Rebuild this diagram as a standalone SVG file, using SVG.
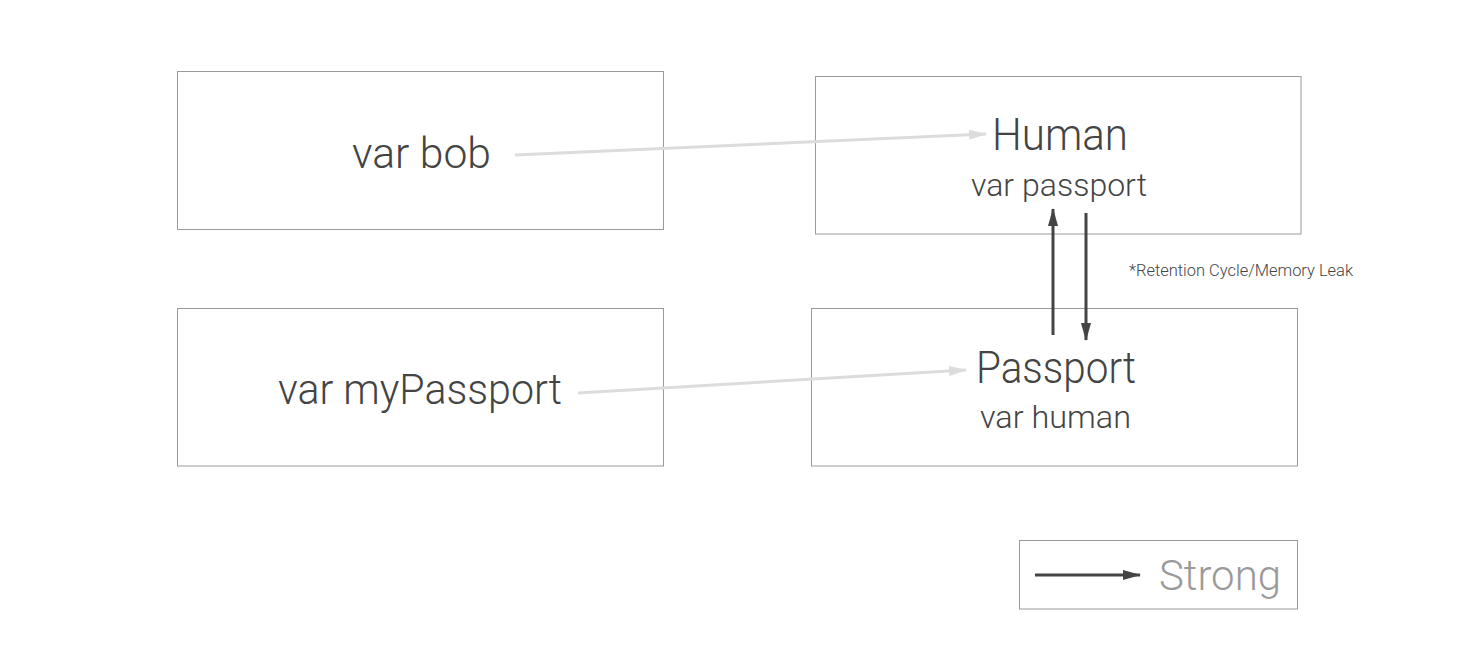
<svg xmlns="http://www.w3.org/2000/svg" width="1482" height="664" viewBox="0 0 1482 664">
<style>
.box{fill:#fff;stroke:#9a9a9a;stroke-width:1}
.t{font-family:Roboto,"Liberation Sans",sans-serif;font-weight:300;fill:#444;text-anchor:middle}
.light{stroke:#dcdcdc;stroke-width:3;fill:none}
.dark{stroke:#444;stroke-width:3;fill:none}
</style>
<defs>
<marker id="ahL" markerWidth="18" markerHeight="10" refX="17" refY="5" orient="auto" markerUnits="userSpaceOnUse"><path d="M0,0 L18,5 L0,10 z" fill="#dcdcdc"/></marker>
<marker id="ahD" markerWidth="18" markerHeight="10" refX="17" refY="5" orient="auto" markerUnits="userSpaceOnUse"><path d="M0,0 L18,5 L0,10 z" fill="#444"/></marker>
</defs>
<rect width="1482" height="664" fill="#fff"/>
<g id="bob"><rect class="box" x="177.5" y="71.5" width="486" height="158"/><text class="t" x="421.5" y="168" font-size="43" textLength="139" lengthAdjust="spacingAndGlyphs">var bob</text></g>
<g id="human"><rect class="box" x="815.5" y="76.5" width="485.5" height="157.5"/><text class="t" x="1060" y="150" font-size="45" textLength="136" lengthAdjust="spacingAndGlyphs">Human</text><text class="t" x="1059" y="196" font-size="31" textLength="176" lengthAdjust="spacingAndGlyphs">var passport</text></g>
<g id="mypassport"><rect class="box" x="177.5" y="308.5" width="486" height="157.5"/><text class="t" x="420" y="404" font-size="43" textLength="284" lengthAdjust="spacingAndGlyphs">var myPassport</text></g>
<g id="passport"><rect class="box" x="811.5" y="308.5" width="486" height="157.5"/><text class="t" x="1056" y="383" font-size="45" textLength="160" lengthAdjust="spacingAndGlyphs">Passport</text><text class="t" x="1055.5" y="428" font-size="31" textLength="151" lengthAdjust="spacingAndGlyphs">var human</text></g>
<g id="note"><text class="t" x="1241" y="276" font-size="16" textLength="224" lengthAdjust="spacingAndGlyphs" font-weight="400">*Retention Cycle/Memory Leak</text></g>
<g id="legend"><rect class="box" x="1019.5" y="540.5" width="278" height="68.5"/><line class="dark" x1="1035" y1="575" x2="1140" y2="575" stroke-width="2.5" marker-end="url(#ahD)"/><text class="t" x="1220" y="590" font-size="42" textLength="122" lengthAdjust="spacingAndGlyphs" style="fill:#9a9a9a">Strong</text></g>
<g id="connectors">
<line class="light" x1="515" y1="155" x2="986" y2="134" marker-end="url(#ahL)"/>
<line class="light" x1="578" y1="393" x2="966" y2="370" marker-end="url(#ahL)"/>
<line class="dark" x1="1053" y1="335" x2="1053" y2="209" marker-end="url(#ahD)"/>
<line class="dark" x1="1086" y1="213" x2="1086" y2="340" marker-end="url(#ahD)"/>
</g>
</svg>
